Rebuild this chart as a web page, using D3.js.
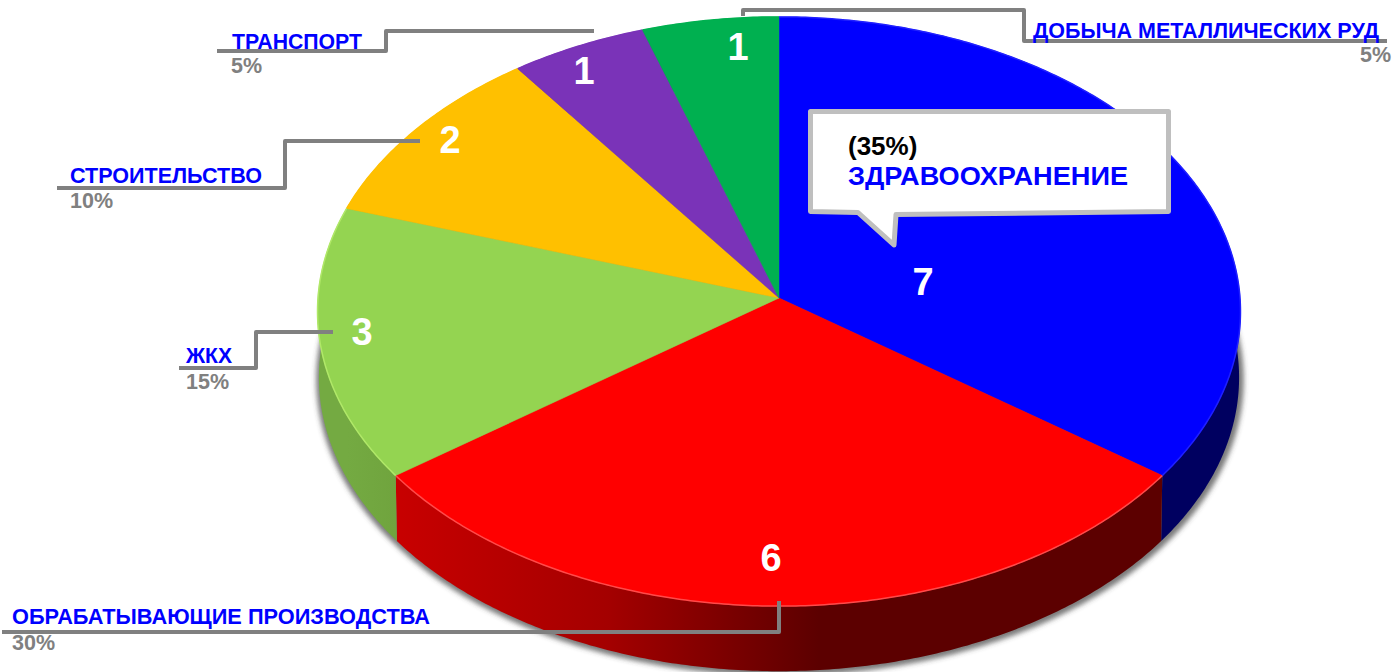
<!DOCTYPE html>
<html>
<head>
<meta charset="utf-8">
<script src="https://cdn.jsdelivr.net/npm/d3@7"></script>
<style>
  html, body { margin: 0; padding: 0; background: #fff; overflow: hidden; }
  text { font-family: "Liberation Sans", Arial, sans-serif; font-weight: bold; }
</style>
</head>
<body>
<div id="plot-container"></div>
<script>
// Chart data
const categories = ["ЗДРАВООХРАНЕНИЕ", "ОБРАБАТЫВАЮЩИЕ ПРОИЗВОДСТВА", "ЖКХ", "СТРОИТЕЛЬСТВО", "ТРАНСПОРТ", "ДОБЫЧА МЕТАЛЛИЧЕСКИХ РУД"];
const values = [7, 6, 3, 2, 1, 1];

const topColors = ["#0000ff", "#ff0000", "#94d451", "#ffc000", "#7a33b8", "#00b050"];
const rimColors = ["#2020ff", "#ff4a4a", "#b0e868", "#ffc000", "#7a33b8", "#00b050"];
const wallStops = [
  ["#00006a", "#000060"],
  ["#c80000", "#5c0000"],
  ["#74aa42", "#70a43e"],
  ["#c09000", "#c09000"],
  ["#5a2688", "#5a2688"],
  ["#008040", "#008040"]
];

// Where the labels sit on the page, same order as categories
const numberPos = [[923, 282], [771, 558], [362, 332], [450, 140], [584, 71], [738, 47]];
const namePos = [null, [12, 624], [186, 363], [70, 183], [232, 49], [1033, 38]];
const percentPos = [null, [12, 650], [186, 389], [70, 208], [231, 73], [1360, 62]];
const nameWidth = [null, 418, 46, 192, 130, 346];
const leaders = [
  null,
  [[2, 632], [779, 632], [779, 601]],
  [[179, 368], [256, 368], [256, 332], [333, 332]],
  [[57, 188], [285, 188], [285, 141], [420, 141]],
  [[217, 51], [386, 51], [386, 31], [594, 31]],
  [[743, 16], [743, 10], [1024, 10], [1024, 41], [1387, 41]]
];

const width = 1393;
const height = 672;
const apex = { x: 779, y: 298 };
const rx = 461;
const ry = 294;
const tilt = 0.0458; // perspective of the disc
const depth = 66;

const svg = d3.select("#plot-container")
  .append("svg")
  .attr("width", width)
  .attr("height", height)
  .style("display", "block");

const defs = svg.append("defs");

defs.append("filter")
  .attr("id", "blur")
  .attr("x", "-10%").attr("y", "-10%")
  .attr("width", "120%").attr("height", "120%")
  .append("feGaussianBlur")
  .attr("stdDeviation", 2.5);

const total = d3.sum(values);
const pct = d3.format(".0%");
const pie = d3.pie().sort(null).value(d => d);
const slices = pie(values);

const xScale = d3.scaleLinear().domain([-1, 1]).range([apex.x - rx, apex.x + rx]);
const yScale = d3.scaleLinear().domain([-1, 1]).range([apex.y - ry, apex.y + ry]);

// angle is clockwise from the top, k = 1 for the disc, k < 1 for the wall bottom
function project(angle, dy, k) {
  const ux = Math.sin(angle);
  const uy = -Math.cos(angle);
  const s = 1 / (1 - tilt * uy);
  return [
    xScale(ux * s * k),
    yScale(uy * s * k) + dy
  ];
}

function arcPoints(a0, a1, dy, k) {
  const n = Math.max(2, Math.ceil((a1 - a0) / 0.01));
  return d3.range(n + 1).map(i => project(a0 + (a1 - a0) * i / n, dy, k));
}

const line = d3.line();
const bottomK = 0.997;

// Shadow under the whole pie
svg.append("path")
  .attr("d", line(arcPoints(0, 2 * Math.PI, depth + 2, 1.005)) + "Z")
  .attr("transform", "translate(1,0)")
  .attr("fill", "#444")
  .attr("fill-opacity", 0.7)
  .attr("filter", "url(#blur)");

// Side walls
slices.forEach((d, i) => {
  const xs = [project(d.startAngle, 0, 1)[0], project(d.endAngle, 0, 1)[0]];
  const grad = defs.append("linearGradient")
    .attr("id", "wall" + i)
    .attr("gradientUnits", "userSpaceOnUse")
    .attr("x1", d3.min(xs))
    .attr("x2", i == 1 ? apex.x + 40 : d3.max(xs))
    .attr("y1", 0).attr("y2", 0);
  grad.append("stop").attr("offset", 0).attr("stop-color", wallStops[i][0]);
  if (i == 1) grad.append("stop").attr("offset", 0.5).attr("stop-color", "#a40000");
  grad.append("stop").attr("offset", 1).attr("stop-color", wallStops[i][1]);
});

svg.selectAll(".wall")
  .data(slices)
  .enter().append("path")
  .attr("class", "wall")
  .attr("d", d => {
    const upper = arcPoints(d.startAngle, d.endAngle, 0, 1);
    const lower = arcPoints(d.startAngle, d.endAngle, depth, bottomK).reverse();
    return line(upper.concat(lower)) + "Z";
  })
  .attr("fill", (d, i) => "url(#wall" + i + ")");

// Top of the disc
svg.selectAll(".slice")
  .data(slices)
  .enter().append("path")
  .attr("class", "slice")
  .attr("d", d => line([[apex.x, apex.y]].concat(arcPoints(d.startAngle, d.endAngle, 0, 1))) + "Z")
  .attr("fill", (d, i) => topColors[i])
  .attr("stroke", (d, i) => topColors[i])
  .attr("stroke-width", 0.5);

// Light bevel along the rim
svg.selectAll(".rim")
  .data(slices)
  .enter().append("path")
  .attr("class", "rim")
  .attr("d", d => line(arcPoints(d.startAngle, d.endAngle, 0, 1)))
  .attr("fill", "none")
  .attr("stroke", (d, i) => rimColors[i])
  .attr("stroke-width", 1.5);

// Leader lines
svg.selectAll(".leader")
  .data(leaders.filter(d => d))
  .enter().append("path")
  .attr("class", "leader")
  .attr("d", d => line(d))
  .attr("fill", "none")
  .attr("stroke", "#808080")
  .attr("stroke-width", 4)
  .attr("stroke-linejoin", "round");

// Category names and shares
categories.forEach((name, i) => {
  if (!namePos[i]) return;
  svg.append("text")
    .attr("x", namePos[i][0])
    .attr("y", namePos[i][1])
    .attr("fill", "#0000ff")
    .attr("font-size", 22)
    .attr("textLength", nameWidth[i])
    .attr("lengthAdjust", "spacingAndGlyphs")
    .text(name);
  svg.append("text")
    .attr("x", percentPos[i][0])
    .attr("y", percentPos[i][1])
    .attr("fill", "#808080")
    .attr("font-size", 21.5)
    .text(pct(values[i] / total));
});

// Callout for the largest slice
const callout = d3.path();
callout.moveTo(810.5, 111.5);
callout.lineTo(1168.5, 111.5);
callout.lineTo(1168.5, 211.5);
callout.lineTo(896, 214.5);
callout.lineTo(894, 245);
callout.lineTo(858, 212.5);
callout.lineTo(810.5, 211.5);
callout.closePath();

svg.append("path")
  .attr("d", callout.toString())
  .attr("fill", "#fff")
  .attr("stroke", "#bfbfbf")
  .attr("stroke-width", 5)
  .attr("stroke-linejoin", "round");

svg.append("text")
  .attr("x", 848)
  .attr("y", 155)
  .attr("fill", "#000")
  .attr("font-size", 26)
  .text("(" + pct(values[0] / total) + ")");

svg.append("text")
  .attr("x", 848)
  .attr("y", 185)
  .attr("fill", "#0000ff")
  .attr("font-size", 26)
  .attr("textLength", 280)
  .attr("lengthAdjust", "spacingAndGlyphs")
  .text(categories[0]);

// Counts on the slices
svg.selectAll(".count")
  .data(values)
  .enter().append("text")
  .attr("class", "count")
  .attr("x", (d, i) => numberPos[i][0])
  .attr("y", (d, i) => numberPos[i][1])
  .attr("dy", ".35em")
  .attr("text-anchor", "middle")
  .attr("fill", "#fff")
  .attr("font-size", 38)
  .text(d => d);
</script>
</body>
</html>
